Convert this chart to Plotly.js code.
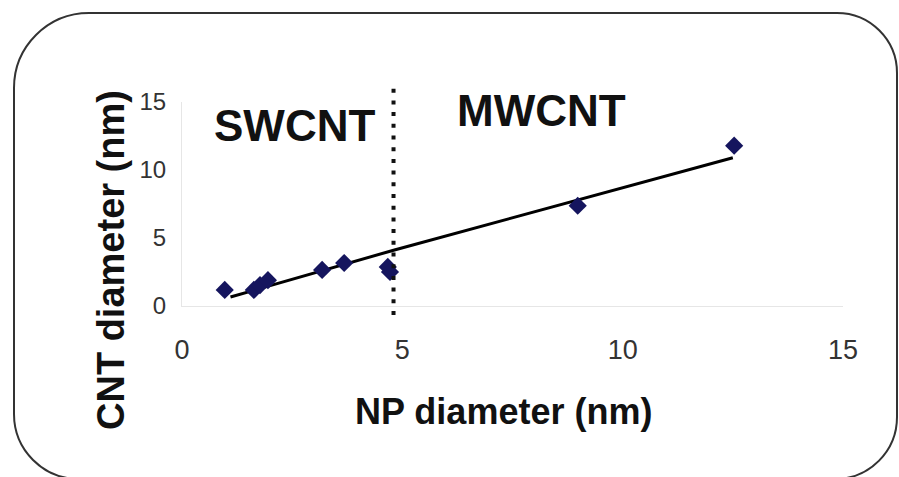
<!DOCTYPE html>
<html>
<head>
<meta charset="utf-8">
<script src="https://cdn.plot.ly/plotly-3.0.1.min.js"></script>
<style>
html,body{margin:0;padding:0;background:#fff;}
#chart{width:899px;height:477px;}
</style>
</head>
<body>
<div id="chart"></div>
<script>
var npDiameter  = [0.97, 1.63, 1.77, 1.95, 3.18, 3.68, 4.67, 4.72, 8.98, 12.53];
var cntDiameter = [1.18, 1.18, 1.54, 1.90, 2.65, 3.16, 2.87, 2.50, 7.37, 11.79];
// Trend line as drawn
var fitX = [1.1, 4.8, 12.5];
var fitY = [0.66, 4.1, 10.9];
// Regime boundary
var boundaryX = 4.8;
var regimeLabels = ["SWCNT", "MWCNT"];
var regimeLabelX = [2.56, 8.15];
var regimeLabelY = [13.3, 14.34];
var tickValues = [0, 5, 10, 15];
var tickLabels = ["0", "5", "10", "15"];
var xTitle = "NP diameter (nm)";
var yTitle = "CNT diameter (nm)";

var W = 899, H = 477;
var M = {l: 182, r: 56, t: 102, b: 171};
var pw = W - M.l - M.r, ph = H - M.t - M.b;
function px(x){ return +((x - M.l) / pw).toFixed(5); }
function py(y){ return +((H - M.b - y) / ph).toFixed(5); }
function roundRect(L, T, R, B, rTL, rTR, rBR, rBL){
  var k = 0.5523;
  var p = "M" + px(L + rTL) + "," + py(T);
  p += " L" + px(R - rTR) + "," + py(T);
  p += " C" + px(R - rTR + k*rTR) + "," + py(T) + " " + px(R) + "," + py(T + rTR - k*rTR) + " " + px(R) + "," + py(T + rTR);
  p += " L" + px(R) + "," + py(B - rBR);
  p += " C" + px(R) + "," + py(B - rBR + k*rBR) + " " + px(R - rBR + k*rBR) + "," + py(B) + " " + px(R - rBR) + "," + py(B);
  p += " L" + px(L + rBL) + "," + py(B);
  p += " C" + px(L + rBL - k*rBL) + "," + py(B) + " " + px(L) + "," + py(B - rBL + k*rBL) + " " + px(L) + "," + py(B - rBL);
  p += " L" + px(L) + "," + py(T + rTL);
  p += " C" + px(L) + "," + py(T + rTL - k*rTL) + " " + px(L + rTL - k*rTL) + "," + py(T) + " " + px(L + rTL) + "," + py(T);
  p += " Z";
  return p;
}

var FONT = "Arial, 'Liberation Sans', sans-serif";

var traces = [
  {
    x: fitX, y: fitY, mode: "lines", type: "scatter",
    line: {color: "#000", width: 3}, hoverinfo: "skip", showlegend: false
  },
  {
    x: npDiameter, y: cntDiameter, mode: "markers", type: "scatter",
    marker: {symbol: "diamond", size: 14, color: "#15155e"},
    showlegend: false, cliponaxis: false
  }
];

var annotations = regimeLabels.map(function(t, i){
  return {x: regimeLabelX[i], y: regimeLabelY[i], xref: "x", yref: "y",
          text: t, showarrow: false, xanchor: "center", yanchor: "middle",
          font: {family: FONT, size: 44, color: "#111", weight: "bold"}};
});
annotations.push({x: px(503), y: py(411), xref: "paper", yref: "paper",
  text: xTitle, showarrow: false, xanchor: "center", yanchor: "middle",
  font: {family: FONT, size: 36, color: "#111", weight: "bold"}});
annotations.push({x: px(111), y: py(260), xref: "paper", yref: "paper",
  text: yTitle, showarrow: false, xanchor: "center", yanchor: "middle", textangle: -90,
  font: {family: FONT, size: 38, color: "#111", weight: "bold"}});

var layout = {
  width: W, height: H,
  margin: M,
  paper_bgcolor: "#fff", plot_bgcolor: "#fff",
  showlegend: false,
  xaxis: {
    range: [0, 15], tickvals: tickValues, ticktext: tickLabels,
    showgrid: false, zeroline: false, showline: true, linecolor: "#e6e6e6", linewidth: 1,
    ticks: "", ticklabelstandoff: 20,
    tickfont: {family: FONT, size: 27, color: "#333"}
  },
  yaxis: {
    range: [0, 15], tickvals: tickValues, ticktext: tickLabels,
    showgrid: false, zeroline: false, showline: true, linecolor: "#e6e6e6", linewidth: 1,
    ticks: "", ticklabelstandoff: 10,
    tickfont: {family: FONT, size: 24, color: "#333"}
  },
  shapes: [
    {type: "path", xref: "paper", yref: "paper",
     path: roundRect(14, 13, 897, 479, 75, 60, 62, 65),
     line: {color: "#333", width: 2}, fillcolor: "rgba(0,0,0,0)", layer: "below"},
    {type: "line", xref: "x", yref: "paper",
     x0: boundaryX, x1: boundaryX, y0: py(315), y1: py(83),
     line: {color: "#111", width: 4, dash: "4px,7.7px"}, layer: "above"}
  ],
  annotations: annotations
};

Plotly.newPlot("chart", traces, layout, {displayModeBar: false, staticPlot: true});
</script>
</body>
</html>
